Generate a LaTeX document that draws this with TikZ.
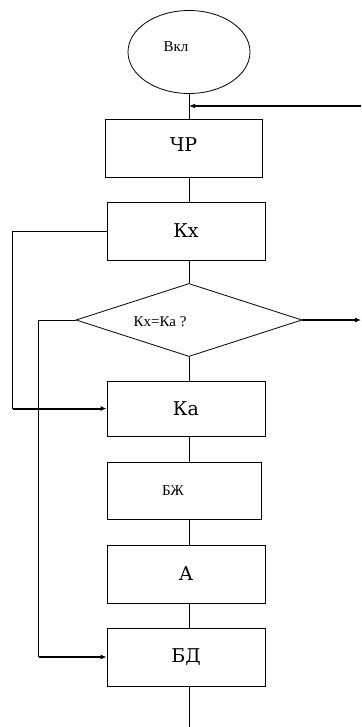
\documentclass[tikz,border=0pt]{standalone}
\usepackage{fontspec}
\setmainfont{Liberation Serif}
\newfontfamily\bigserif{DejaVu Serif}
\usepackage{tikz}
\usetikzlibrary{shapes.geometric, arrows.meta, positioning}

\begin{document}
\begin{tikzpicture}[
    x=1pt, y=-1pt,
    block/.style={rectangle, draw=black, line width=0.8pt, minimum width=158pt, minimum height=58pt, inner sep=0pt, font=\bigserif\fontsize{19}{19}\selectfont},
    startnode/.style={ellipse, draw=black, line width=0.8pt, minimum width=122pt, minimum height=83pt, inner sep=0pt},
    decision/.style={diamond, draw=black, line width=0.8pt, minimum width=226pt, minimum height=73pt, inner sep=0pt},
    smalltext/.style={font=\fontsize{15}{15}\selectfont},
    line/.style={draw=black, line width=0.8pt},
    arrow/.style={-{Latex[length=6pt,width=5pt]}, line width=2pt, black}
]
\useasboundingbox (0,0) rectangle (361,727);

% Start
\node[startnode, label={[smalltext, xshift=-13pt, yshift=5pt]center:Вкл}] (vkl) at (189,52) {};

% Blocks
\node[block, minimum width=157pt] (chr) at (183.5,148) {\raisebox{7pt}{ЧР}};
\node[block] (kx) at (186,231) {Кх};
\node[decision, label={[smalltext, xshift=-29pt, yshift=-2pt]center:Кх=Ка ?}] (check) at (189,320) {};
\node[block, minimum height=55pt] (ka) at (186,408.5) {Ка};
\node[block, minimum width=154pt, minimum height=57pt, label={[smalltext, xshift=-11pt]center:БЖ}] (bzh) at (184,490.5) {};
\node[block] (a) at (186,574) {А};
\node[block] (bd) at (186,657) {БД};

% Free ends
\coordinate (in1) at (361,106);
\coordinate (out1) at (361,320);
\coordinate (end) at (189,727);

% Main line
\draw[line] (vkl.south) -- (chr.north -| vkl.south);
\draw[line] (chr.south -| vkl.south) -- (kx.north -| vkl.south);
\draw[line] (kx.south -| check.north) -- (check.north);
\draw[line] (check.south) -- (ka.north -| check.south);
\draw[line] (ka.south -| check.south) -- (bzh.north -| check.south);
\draw[line] (bzh.south -| check.south) -- (a.north -| check.south);
\draw[line] (a.south -| check.south) -- (bd.north -| check.south);
\draw[line] (bd.south -| end) -- (end);

% Arrows
\draw[arrow] (in1) -- (in1 -| vkl.south);
\draw[arrow] (check.east) -- (out1);

% Loops
\draw[line] (kx.west) -- ++(-94,0) |- ([xshift=-94pt]ka.west);
\draw[arrow] ([xshift=-94pt]ka.west) -- (ka.west);
\draw[line] (check.west) -- ++(-37,0) |- ([xshift=-68pt]bd.west);
\draw[arrow] ([xshift=-68pt]bd.west) -- (bd.west);
\end{tikzpicture}
\end{document}
